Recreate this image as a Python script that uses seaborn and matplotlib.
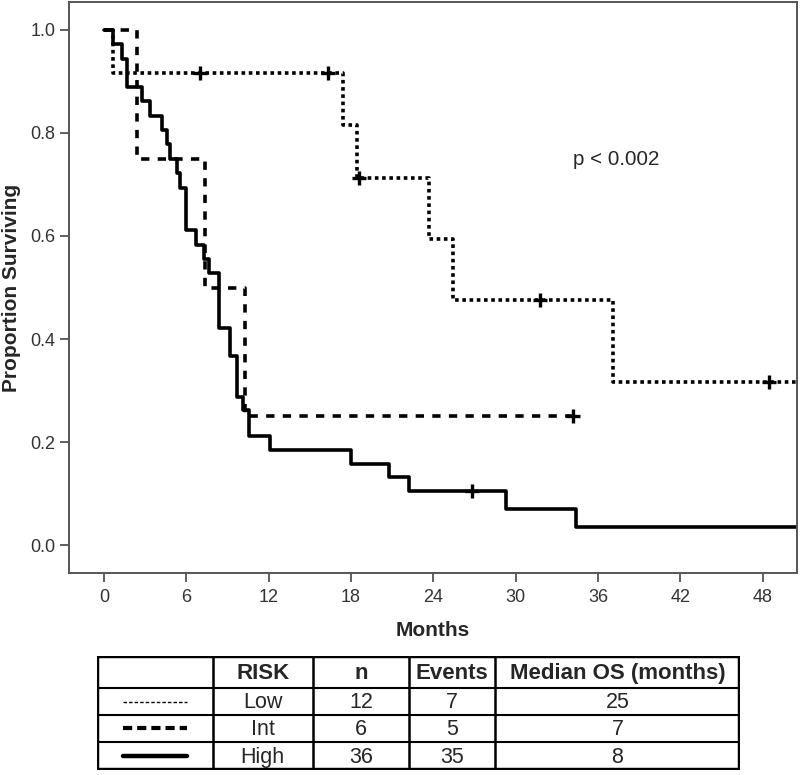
import matplotlib
matplotlib.use("Agg")
import matplotlib.pyplot as plt
import seaborn as sns
import numpy as np
import pandas as pd

# Kaplan-Meier steps (time in months, survival after each step)
low_t = [0, 0.65, 17.4, 18.4, 23.7, 25.4, 37.1, 51]
low_s = [1.0, 0.917, 0.815, 0.713, 0.594, 0.475, 0.317, 0.317]
low_cens_t = [7.0, 16.3, 18.6, 31.8, 48.5]
low_cens_s = [0.917, 0.917, 0.713, 0.475, 0.317]

int_t = [0, 2.4, 7.35, 10.27, 34.2]
int_s = [1.0, 0.75, 0.50, 0.25, 0.25]
int_cens_t = [34.2]
int_cens_s = [0.25]

high_t = [0, 0.66, 1.31, 1.68, 2.77, 3.35, 4.22, 4.59, 4.81, 5.32, 5.54, 5.97,
          6.7, 7.28, 7.65, 8.38, 9.18, 9.69, 10.12, 10.56, 12.1, 18.0, 20.8,
          22.2, 29.3, 34.4, 51]
high_s = [1.0, 0.972, 0.944, 0.889, 0.861, 0.833, 0.806, 0.778, 0.750, 0.722,
          0.694, 0.611, 0.583, 0.556, 0.528, 0.421, 0.368, 0.288, 0.262, 0.211,
          0.184, 0.158, 0.132, 0.105, 0.070, 0.035, 0.035]
high_cens_t = [26.8]
high_cens_s = [0.105]

# table contents
tab_header = ["", "RISK", "n", "Events", "Median OS (months)"]
tab_risk = ["Low", "Int", "High"]
tab_n = [12, 6, 36]
tab_events = [7, 5, 35]
tab_median = [25, 7, 8]

sns.set_style("white")
plt.rcParams["font.family"] = ["Liberation Sans", "DejaVu Sans"]

fig = plt.figure(figsize=(8, 7.75), dpi=100)
ax = fig.add_axes([0.086, 0.2606, 0.91, 0.7368])

dotted = (0, (1, 1))
dashed = (0, (2.3, 2.3))
curves = [
    (low_t, low_s, low_cens_t, low_cens_s, dotted),
    (int_t, int_s, int_cens_t, int_cens_s, dashed),
    (high_t, high_s, high_cens_t, high_cens_s, "-"),
]
for t, s, ct, cs, ls in curves:
    df = pd.DataFrame({"t": t, "s": s})
    sns.lineplot(data=df, x="t", y="s", ax=ax, drawstyle="steps-post",
                 color="black", linewidth=2.6, linestyle=ls, estimator=None,
                 sort=False)
    sns.scatterplot(x=ct, y=cs, ax=ax, marker="+", s=90, linewidth=2.4,
                    color="black", zorder=5)

ax.set_xlim(-2.58, 50.5)
ax.set_ylim(-0.054, 1.054)
ax.set_xticks(np.arange(0, 49, 6))
ax.set_yticks(np.arange(0, 1.01, 0.2))
ax.set_yticklabels([f"{v:.1f}" for v in np.arange(0, 1.01, 0.2)])
ax.tick_params(axis="both", direction="out", length=6.5, width=1.2,
               color="#444444", labelsize=13, labelcolor="#333333",
               bottom=True, left=True)
ax.tick_params(axis="x", pad=5)
ax.tick_params(axis="y", pad=3)
for sp in ax.spines.values():
    sp.set_color("#555555")
    sp.set_linewidth(1.4)
ax.set_xlabel("Months", fontsize=15, fontweight="bold", labelpad=11)
ax.set_ylabel("Proportion Surviving", fontsize=15, fontweight="bold", labelpad=7)
ax.text(34.2, 0.748, "p < 0.002", fontsize=14.8, va="center", ha="left")

# table drawn below the plot
tax = fig.add_axes([0.121, 0.0065, 0.804, 0.147])
tax.set_xlim(0, 1)
tax.set_ylim(1, 0)
tax.axis("off")
cols = [0, 0.180, 0.336, 0.485, 0.619, 1.0]
rows = [0, 0.281, 0.518, 0.754, 1.0]
for c in cols[1:-1]:
    tax.plot([c, c], [0, 1], color="black", lw=1.8)
for r in rows[1:-1]:
    tax.plot([0, 1], [r, r], color="black", lw=1.5)
tax.plot([0, 1, 1, 0, 0], [0, 0, 1, 1, 0], color="black", lw=3.2)

tfont = ["Liberation Sans Narrow", "Liberation Sans", "DejaVu Sans"]
for j, h in enumerate(tab_header):
    cx = (cols[j] + cols[j + 1]) / 2
    tax.text(cx, (rows[0] + rows[1]) / 2 + 0.01, h, ha="center", va="center",
             fontsize=16, fontweight="bold", family=tfont)
sample_styles = [(dict(lw=1.0, linestyle=(0, (2.5, 1.5)))),
                 (dict(lw=3.0, linestyle=(0, (2.2, 1.2)))),
                 (dict(lw=3.2, linestyle="-"))]
for i in range(3):
    cy = (rows[i + 1] + rows[i + 2]) / 2 + 0.01
    vals = [tab_risk[i], tab_n[i], tab_events[i], tab_median[i]]
    for j, v in enumerate(vals, start=1):
        cx = (cols[j] + cols[j + 1]) / 2
        tax.text(cx, cy, str(v), ha="center", va="center", fontsize=15.5,
                 family=tfont)
    tax.plot([0.04, 0.14], [cy - 0.01, cy - 0.01], color="black", **sample_styles[i])

fig.savefig("out.png", dpi=100)
